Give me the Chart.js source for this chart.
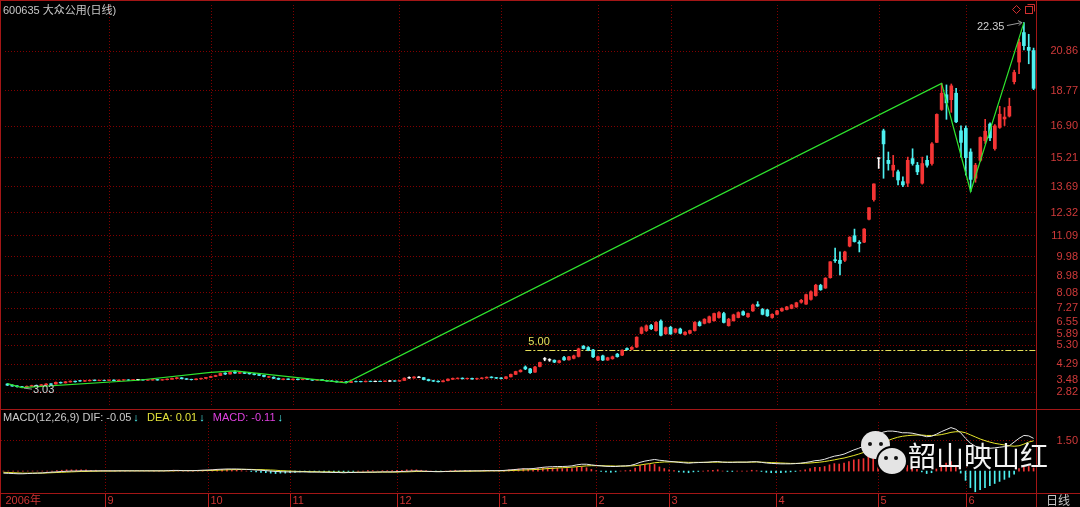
<!DOCTYPE html>
<html>
<head>
<meta charset="utf-8">
<script src="https://cdn.jsdelivr.net/npm/chart.js@4.4.0/dist/chart.umd.min.js"></script>
<style>
html, body { margin: 0; padding: 0; background: #000; }
#wrap { position: relative; width: 1080px; height: 507px; overflow: hidden; background: #000; }
canvas { position: absolute; left: 0; }
#main { top: 0; }
#macd { top: 410px; }
.bub { position: absolute; background: #e4e4e4; border-radius: 50%; }
.eye { position: absolute; width: 4px; height: 4px; border-radius: 50%; background: #111; }
#wmText { position: absolute; left: 908px; top: 441px; font: 28px "Noto Sans CJK SC", sans-serif; line-height: 1; color: #f4f4f4; white-space: nowrap; }
</style>
</head>
<body>
<div id="wrap">
  <canvas id="main" width="1080" height="410"></canvas>
  <canvas id="macd" width="1080" height="97"></canvas>
  <div class="bub" style="left:861px;top:431px;width:29px;height:28px;"></div>
  <div class="eye" style="left:868px;top:442px;"></div>
  <div class="eye" style="left:879px;top:442px;"></div>
  <div class="bub" style="left:876px;top:446px;width:28px;height:26px;border:2px solid #000;"></div>
  <div class="eye" style="left:884px;top:456px;"></div>
  <div class="eye" style="left:894px;top:456px;"></div>
  <div id="wmText">韶山映山红</div>
</div>
<script>
// 600635 大众公用 daily, 2006-08 .. 2007-06
var openP = [
  // aug
  3.22,3.16,3.12,3.08,3.05,3.10,3.15,3.12,3.18,3.23,3.22,3.31,3.28,3.33,3.37,3.40,3.37,3.39,3.43,3.40,3.42,
  // sep
  3.41,3.43,3.40,3.43,3.44,3.42,3.45,3.45,3.42,3.43,3.46,3.43,3.45,3.48,3.51,3.55,3.50,3.47,3.45,3.49,3.52,
  // oct
  3.57,3.62,3.67,3.80,3.75,3.85,3.79,3.83,3.80,3.76,3.72,3.68,3.58,3.58,3.52,3.46,3.49,
  // nov
  3.45,3.48,3.45,3.48,3.46,3.42,3.45,3.41,3.38,3.37,3.33,3.34,3.30,3.35,3.36,3.34,3.37,3.36,3.37,3.35,3.38,3.39,
  // dec
  3.37,3.41,3.55,3.54,3.58,3.56,3.46,3.40,3.37,3.34,3.40,3.47,3.51,3.53,3.50,3.52,3.49,3.51,3.54,3.59,3.56,
  // jan
  3.54,3.51,3.60,3.73,3.87,4.12,4.02,3.85,4.15,4.55,4.50,4.48,4.36,4.62,4.50,4.58,4.68,5.22,5.15,5.02,
  // feb
  4.49,4.71,4.49,4.56,4.80,4.75,5.10,5.06,5.18,5.90,6.05,6.32,6.05,6.55,5.88,
  // mar
  6.22,5.96,6.13,5.84,5.91,6.05,6.48,6.43,6.48,6.57,6.74,6.95,6.31,6.57,6.74,7.05,6.78,7.09,7.43,7.17,7.14,6.74,
  // apr
  6.91,7.09,7.16,7.22,7.30,7.55,7.45,7.70,7.90,8.44,8.30,8.85,9.80,9.77,9.77,10.52,11.07,10.72,10.73,11.94,12.98,
  // may
  15.18,16.62,15.06,14.54,14.45,13.93,13.85,15.15,14.80,13.85,15.06,14.89,16.01,17.75,18.53,18.27,18.61,16.62,
  // jun
  16.75,15.50,14.11,15.06,16.10,16.98,15.68,16.80,17.25,17.40,19.22,20.26,21.82,21.04,20.87
];
var highP = [
  3.25,3.18,3.14,3.10,3.12,3.16,3.17,3.20,3.24,3.25,3.33,3.33,3.36,3.39,3.38,3.42,3.41,3.44,3.44,3.43,3.43,
  3.44,3.44,3.44,3.46,3.45,3.46,3.47,3.46,3.45,3.47,3.47,3.46,3.49,3.53,3.56,3.56,3.51,3.48,3.50,3.53,3.58,
  3.64,3.69,3.80,3.82,3.86,3.92,3.86,3.85,3.82,3.78,3.73,3.70,3.63,3.60,3.54,3.50,3.50,
  3.49,3.49,3.49,3.50,3.47,3.46,3.46,3.42,3.40,3.38,3.36,3.35,3.36,3.37,3.37,3.38,3.38,3.38,3.38,3.39,3.40,3.40,
  3.42,3.55,3.60,3.61,3.62,3.57,3.48,3.42,3.39,3.40,3.50,3.54,3.55,3.55,3.54,3.53,3.53,3.56,3.60,3.61,3.57,
  3.56,3.62,3.75,3.90,3.98,4.18,4.05,4.15,4.38,4.62,4.56,4.50,4.48,4.68,4.68,4.75,5.12,5.26,5.20,5.06,
  4.70,4.75,4.64,4.70,4.84,5.03,5.14,5.20,5.72,6.25,6.35,6.38,6.52,6.62,6.24,
  6.28,6.16,6.18,5.99,6.08,6.52,6.55,6.68,6.82,6.98,7.05,7.02,6.70,6.92,7.04,7.10,6.98,7.45,7.58,7.22,7.18,6.94,
  7.12,7.25,7.33,7.43,7.55,7.70,7.98,8.15,8.50,8.50,8.85,9.70,10.42,10.21,10.25,11.02,11.42,10.81,11.45,12.56,13.81,
  15.19,16.71,15.50,15.32,14.54,14.19,15.23,15.67,14.95,15.23,15.30,16.00,17.52,19.13,19.05,19.10,18.87,16.88,
  16.88,15.67,14.90,16.30,17.23,17.05,16.95,17.92,17.85,18.35,19.83,21.47,22.35,21.73,21.00
];
var lowP = [
  3.14,3.10,3.06,3.03,3.04,3.08,3.10,3.11,3.16,3.18,3.21,3.26,3.27,3.32,3.32,3.36,3.36,3.38,3.39,3.39,3.39,
  3.40,3.39,3.39,3.41,3.41,3.41,3.43,3.42,3.41,3.42,3.42,3.42,3.44,3.47,3.50,3.49,3.46,3.43,3.44,3.48,3.51,
  3.56,3.61,3.66,3.72,3.74,3.78,3.77,3.77,3.74,3.70,3.66,3.60,3.56,3.50,3.45,3.44,3.45,
  3.44,3.44,3.44,3.45,3.41,3.41,3.40,3.37,3.35,3.32,3.31,3.28,3.29,3.33,3.33,3.33,3.34,3.34,3.34,3.34,3.36,3.36,
  3.36,3.40,3.52,3.53,3.55,3.44,3.38,3.35,3.32,3.33,3.39,3.46,3.49,3.48,3.48,3.47,3.47,3.50,3.53,3.54,3.51,
  3.49,3.50,3.59,3.72,3.85,3.98,3.78,3.83,4.12,4.45,4.42,4.35,4.33,4.47,4.48,4.55,4.65,5.08,4.98,4.62,
  4.45,4.46,4.47,4.53,4.64,4.72,5.02,5.03,5.15,5.88,6.00,6.10,6.02,5.76,5.85,
  5.85,5.92,5.88,5.80,5.88,6.02,6.28,6.40,6.45,6.55,6.70,6.45,6.28,6.55,6.72,6.85,6.75,7.06,7.33,6.88,6.80,6.70,
  6.88,7.06,7.14,7.20,7.28,7.50,7.43,7.66,7.87,8.18,8.28,8.82,9.65,8.99,9.70,10.48,10.73,10.21,10.70,11.90,12.90,
  14.63,14.11,14.54,14.19,13.76,13.67,13.67,14.80,14.30,13.80,14.70,14.80,16.00,17.70,17.23,17.60,17.05,15.23,
  14.28,13.41,13.90,15.00,15.95,16.10,15.60,16.75,16.90,17.35,19.10,19.65,20.90,20.17,18.80
];
var closeP = [
  3.16,3.11,3.08,3.05,3.10,3.14,3.12,3.18,3.22,3.20,3.31,3.28,3.34,3.37,3.34,3.38,3.40,3.42,3.40,3.42,3.41,
  3.43,3.40,3.43,3.44,3.42,3.45,3.45,3.43,3.44,3.46,3.43,3.45,3.48,3.52,3.55,3.50,3.47,3.45,3.49,3.52,3.57,
  3.62,3.67,3.78,3.75,3.84,3.80,3.83,3.78,3.76,3.72,3.68,3.62,3.61,3.52,3.47,3.49,3.46,
  3.48,3.45,3.47,3.46,3.42,3.45,3.41,3.38,3.36,3.33,3.35,3.30,3.35,3.34,3.34,3.37,3.35,3.36,3.35,3.38,3.38,3.37,
  3.41,3.53,3.55,3.59,3.58,3.46,3.40,3.37,3.34,3.39,3.48,3.52,3.53,3.50,3.52,3.49,3.51,3.54,3.58,3.56,3.53,
  3.51,3.60,3.73,3.88,3.95,4.02,3.82,4.12,4.36,4.55,4.50,4.38,4.45,4.50,4.66,4.71,5.08,5.10,5.02,4.66,
  4.66,4.49,4.61,4.66,4.67,5.01,5.04,5.16,5.70,6.20,6.30,6.15,6.48,5.80,6.20,
  5.87,6.13,5.91,5.96,6.05,6.48,6.31,6.65,6.78,6.95,7.00,6.48,6.65,6.88,7.00,6.88,6.95,7.40,7.35,6.91,6.83,6.91,
  7.09,7.22,7.30,7.40,7.52,7.65,7.95,8.10,8.45,8.21,8.82,9.69,9.75,9.60,10.21,10.99,10.76,10.66,11.42,12.55,13.81,
  15.18,15.93,14.89,14.80,14.02,13.76,15.06,14.89,14.45,14.89,14.80,15.93,17.49,18.61,18.10,19.00,17.10,16.01,
  15.20,14.05,14.80,16.27,16.60,16.25,16.88,17.50,17.35,17.92,19.71,21.30,21.13,20.88,18.87
];

// MACD(12,26,9)
var dif = [
  -0.10,-0.11,-0.12,-0.13,-0.13,-0.12,-0.11,-0.10,-0.09,-0.07,-0.05,-0.04,-0.02,-0.01,0.00,0.00,0.01,0.01,0.01,0.01,0.01,
  0.01,0.01,0.01,0.01,0.01,0.01,0.01,0.01,0.01,0.01,0.01,0.01,0.01,0.02,0.03,0.03,0.02,0.02,0.02,0.03,0.04,
  0.05,0.06,0.08,0.09,0.10,0.10,0.10,0.09,0.08,0.07,0.05,0.04,0.02,0.00,-0.02,-0.03,-0.04,
  -0.04,-0.04,-0.04,-0.04,-0.05,-0.05,-0.05,-0.06,-0.06,-0.07,-0.07,-0.08,-0.07,-0.07,-0.06,-0.06,-0.05,-0.05,-0.05,-0.04,-0.04,-0.04,
  -0.03,-0.02,-0.01,0.00,0.01,0.00,-0.01,-0.02,-0.03,-0.03,-0.02,-0.01,0.00,0.00,0.01,0.01,0.01,0.01,0.02,0.02,0.02,
  0.02,0.03,0.05,0.07,0.09,0.11,0.11,0.12,0.15,0.18,0.20,0.21,0.22,0.22,0.23,0.25,0.30,0.33,0.33,0.30,
  0.27,0.25,0.23,0.22,0.22,0.24,0.25,0.27,0.33,0.42,0.48,0.52,0.56,0.52,0.50,
  0.47,0.45,0.42,0.40,0.38,0.40,0.41,0.42,0.43,0.45,0.46,0.43,0.42,0.42,0.43,0.43,0.43,0.45,0.45,0.42,0.39,0.37,
  0.36,0.35,0.35,0.35,0.36,0.38,0.41,0.45,0.50,0.52,0.57,0.65,0.72,0.76,0.82,0.92,1.02,1.10,1.20,1.35,1.55,
  1.75,1.88,1.93,1.93,1.90,1.85,1.85,1.83,1.78,1.72,1.66,1.68,1.78,1.90,2.00,2.10,2.02,1.85,
  1.58,1.35,1.20,1.15,1.12,1.10,1.12,1.15,1.18,1.22,1.40,1.58,1.72,1.70,1.58
];
var dea = [
  -0.06,-0.07,-0.08,-0.09,-0.10,-0.10,-0.10,-0.10,-0.10,-0.09,-0.08,-0.07,-0.06,-0.05,-0.04,-0.03,-0.02,-0.02,-0.01,-0.01,0.00,
  0.00,0.00,0.00,0.01,0.01,0.01,0.01,0.01,0.01,0.01,0.01,0.01,0.01,0.01,0.01,0.02,0.02,0.02,0.02,0.02,0.02,
  0.03,0.03,0.04,0.05,0.06,0.07,0.07,0.08,0.08,0.08,0.07,0.07,0.06,0.05,0.04,0.02,0.01,
  0.00,-0.01,-0.02,-0.02,-0.03,-0.03,-0.04,-0.04,-0.04,-0.05,-0.05,-0.06,-0.06,-0.06,-0.06,-0.06,-0.06,-0.06,-0.05,-0.05,-0.05,-0.05,
  -0.05,-0.04,-0.04,-0.03,-0.02,-0.02,-0.02,-0.02,-0.02,-0.02,-0.02,-0.02,-0.02,-0.01,-0.01,-0.01,0.00,0.00,0.00,0.01,0.01,
  0.01,0.01,0.02,0.03,0.04,0.05,0.06,0.07,0.08,0.10,0.12,0.13,0.15,0.16,0.17,0.19,0.21,0.23,0.25,0.26,
  0.26,0.26,0.25,0.25,0.24,0.24,0.24,0.25,0.26,0.29,0.33,0.36,0.40,0.42,0.44,
  0.44,0.44,0.44,0.43,0.42,0.42,0.42,0.42,0.42,0.43,0.43,0.43,0.43,0.43,0.43,0.43,0.43,0.43,0.44,0.43,0.42,0.41,
  0.40,0.39,0.38,0.37,0.37,0.37,0.38,0.39,0.41,0.43,0.46,0.50,0.54,0.59,0.63,0.69,0.75,0.82,0.90,0.99,1.10,
  1.23,1.36,1.47,1.56,1.63,1.68,1.71,1.73,1.74,1.74,1.72,1.72,1.73,1.76,1.81,1.87,1.90,1.90,
  1.85,1.75,1.65,1.55,1.47,1.40,1.34,1.30,1.26,1.22,1.20,1.22,1.30,1.40,1.46
];
var macdBar = [
  0,0,0,0,0,0,0,0,0,0,0,0.02,0.04,0.06,0.06,0.06,0.06,0.06,0.04,0.04,0.02,
  0.02,0.02,0.02,0,0,0,0,0,0,0,0,0,0,0.02,0.04,0.02,0,0,0,0.02,0.04,
  0.04,0.06,0.08,0.08,0.08,0.06,0.06,0.02,0,-0.02,-0.04,-0.06,-0.08,-0.10,-0.12,-0.10,-0.10,
  -0.08,-0.06,-0.04,-0.04,-0.04,-0.04,-0.02,-0.04,-0.04,-0.04,-0.04,-0.04,-0.02,-0.02,0,0,0.02,0.02,0,0.02,0.02,0.02,
  0.04,0.04,0.06,0.06,0.06,0.04,0.02,0,-0.02,-0.02,0,0.02,0.04,0.02,0.04,0.04,0.02,0.02,0.04,0.02,0.02,
  0.02,0.04,0.06,0.08,0.10,0.12,0.10,0.10,0.14,0.16,0.16,0.16,0.14,0.12,0.12,0.12,0.18,0.20,0.16,0.08,
  0.02,-0.02,-0.04,-0.06,-0.04,0,0.02,0.04,0.14,0.26,0.30,0.32,0.32,0.20,0.12,
  0.06,0.02,-0.04,-0.06,-0.08,-0.04,-0.02,0,0.02,0.04,0.06,0,-0.02,-0.02,0,0,0,0.04,0.02,-0.02,-0.06,-0.08,
  -0.08,-0.08,-0.06,-0.04,-0.02,0.02,0.06,0.12,0.18,0.18,0.22,0.30,0.36,0.34,0.38,0.46,0.54,0.56,0.60,0.72,0.90,
  1.04,1.04,0.92,0.74,0.54,0.34,0.28,0.20,0.08,-0.04,-0.12,-0.08,0.10,0.28,0.38,0.46,0.24,-0.10,
  -0.45,-0.80,-1.00,-0.90,-0.80,-0.70,-0.60,-0.50,-0.40,-0.30,-0.15,0.12,0.20,0.22,0.15
];

// zigzag turning points (candle index, price)
var zzIdx = [0, 3, 27, 42, 47, 70, 193, 199, 210];
var zzVal = [3.24, 3.03, 3.42, 3.84, 3.92, 3.28, 19.13, 13.41, 22.35];

var priceTicks = [2.82, 3.48, 4.29, 5.30, 5.89, 6.55, 7.27, 8.08, 8.98, 9.98, 11.09, 12.32, 13.69, 15.21, 16.90, 18.77, 20.86];
var macdTicks = [1.50];
var monthStart = [0, 21, 42, 59, 81, 102, 122, 137, 159, 180, 198];
var monthText = ['2006年', '9', '10', '11', '12', '1', '2', '3', '4', '5', '6'];

var title = '600635 大众公用(日线)';
var legendVals = { dif: '-0.05', dea: '0.01', macd: '-0.11' };
var level = { value: 5.00, from: 107 };
var lowMark = { idx: 3, value: 3.03 };
var highMark = { idx: 210, value: 22.35 };

var UP = '#f43434', DOWN = '#4ef0f0', DOJI = '#ffffff';
var FRAME = '#a31616', GRID = '#820000', AXT = '#d03a3a';
var FONT = '11px "Liberation Sans", "Noto Sans CJK SC", sans-serif';

var labels = openP.map(function(v, i) { return i; });
var colors = openP.map(function(o, i) {
  return closeP[i] > o ? UP : (closeP[i] < o ? DOWN : DOJI);
});
var zz = labels.map(function() { return null; });
zzIdx.forEach(function(k, j) { zz[k] = zzVal[j]; });
var doji = openP.map(function(o, i) { return closeP[i] === o ? o : null; });

function seg(ctx, x1, y1, x2, y2) {
  ctx.beginPath(); ctx.moveTo(x1, y1); ctx.lineTo(x2, y2); ctx.stroke();
}
function px(v) { return Math.round(v) + 0.5; }

var mainDeco = {
  id: 'mainDeco',
  beforeDatasetsDraw: function(chart) {
    var ctx = chart.ctx, a = chart.chartArea, x = chart.scales.x, y = chart.scales.y;
    ctx.save();
    ctx.strokeStyle = GRID; ctx.lineWidth = 1; ctx.setLineDash([1, 2]);
    priceTicks.forEach(function(v) { var yy = px(y.getPixelForValue(v)); seg(ctx, a.left, yy, a.right, yy); });
    monthStart.slice(1).forEach(function(i) { var xx = px(x.getPixelForValue(i)); seg(ctx, xx, a.top, xx, a.bottom); });
    // 5.00 level
    var ly = px(y.getPixelForValue(level.value));
    ctx.strokeStyle = '#e6e05a'; ctx.setLineDash([6, 2, 2, 2]);
    seg(ctx, x.getPixelForValue(level.from), ly, a.right, ly);
    ctx.restore();
  },
  afterDraw: function(chart) {
    var ctx = chart.ctx, x = chart.scales.x, y = chart.scales.y;
    ctx.save();
    ctx.font = FONT; ctx.textBaseline = 'middle';
    // frame
    ctx.strokeStyle = FRAME; ctx.lineWidth = 1;
    seg(ctx, 0, 0.5, 1080, 0.5);
    seg(ctx, 0.5, 0, 0.5, 410);
    seg(ctx, 1036.5, 0, 1036.5, 410);
    seg(ctx, 0, 409.5, 1080, 409.5);
    // price labels
    ctx.fillStyle = AXT; ctx.textAlign = 'right';
    priceTicks.forEach(function(v) { ctx.fillText(v.toFixed(2), 1078, y.getPixelForValue(v) + 0.5); });
    // title
    ctx.textAlign = 'left'; ctx.fillStyle = '#c8c8c8';
    ctx.fillText(title, 3, 11);
    // level label
    ctx.fillStyle = '#e6e05a';
    ctx.fillText(level.value.toFixed(2), x.getPixelForValue(level.from) + 3, y.getPixelForValue(level.value) - 8);
    // high / low marks
    ctx.strokeStyle = '#9a9a9a'; ctx.fillStyle = '#cfcfcf';
    var hx = x.getPixelForValue(highMark.idx), hy = y.getPixelForValue(highMark.value);
    ctx.fillText(highMark.value.toFixed(2), hx - 47, hy + 4);
    seg(ctx, hx - 17, hy + 3, hx - 2, hy);
    seg(ctx, hx - 2, hy, hx - 6, hy - 2); seg(ctx, hx - 2, hy, hx - 5, hy + 3);
    var lx = x.getPixelForValue(lowMark.idx), lyy = y.getPixelForValue(lowMark.value);
    seg(ctx, lx + 2, lyy + 0.5, lx + 10, lyy + 1.5);
    ctx.fillText(lowMark.value.toFixed(2), lx + 11, lyy + 2);
    // corner icons
    ctx.strokeStyle = '#d03030';
    ctx.beginPath(); ctx.moveTo(1016.5, 5.5); ctx.lineTo(1020.5, 9.5); ctx.lineTo(1016.5, 13.5); ctx.lineTo(1012.5, 9.5); ctx.closePath(); ctx.stroke();
    ctx.strokeRect(1025.5, 6.5, 7, 7); seg(ctx, 1027.5, 4.5, 1034.5, 4.5); seg(ctx, 1034.5, 4.5, 1034.5, 11.5);
    ctx.restore();
  }
};

var macdDeco = {
  id: 'macdDeco',
  beforeDatasetsDraw: function(chart) {
    var ctx = chart.ctx, a = chart.chartArea, x = chart.scales.x, y = chart.scales.y;
    ctx.save();
    ctx.strokeStyle = GRID; ctx.lineWidth = 1; ctx.setLineDash([1, 2]);
    macdTicks.forEach(function(v) { var yy = px(y.getPixelForValue(v)); seg(ctx, a.left, yy, a.right, yy); });
    monthStart.slice(1).forEach(function(i) { var xx = px(x.getPixelForValue(i)); seg(ctx, xx, a.top + 12, xx, a.bottom); });
    ctx.restore();
  },
  afterDraw: function(chart) {
    var ctx = chart.ctx, a = chart.chartArea, x = chart.scales.x, y = chart.scales.y;
    ctx.save();
    ctx.font = FONT; ctx.textBaseline = 'middle';
    ctx.strokeStyle = FRAME; ctx.lineWidth = 1;
    seg(ctx, 0.5, 0, 0.5, 97);
    seg(ctx, 1036.5, 0, 1036.5, 97);
    seg(ctx, 0, 83.5, 1080, 83.5);
    ctx.fillStyle = AXT; ctx.textAlign = 'right';
    macdTicks.forEach(function(v) { ctx.fillText(v.toFixed(2), 1078, y.getPixelForValue(v) + 0.5); });
    // legend
    ctx.textAlign = 'left';
    var parts = [
      ['MACD(12,26,9) DIF: ' + legendVals.dif, '#cccccc'], ['\u2193', DOWN],
      ['  DEA: ' + legendVals.dea, '#e2e23a'], ['\u2193', DOWN],
      ['  MACD: ' + legendVals.macd, '#e040e0'], ['\u2193', DOWN]
    ];
    var cx = 3;
    parts.forEach(function(p) {
      ctx.fillStyle = p[1]; ctx.fillText(p[0], cx, 7.5); cx += ctx.measureText(p[0]).width + 2;
    });
    // date strip
    ctx.strokeStyle = '#b81c1c';
    monthStart.forEach(function(i, k) {
      var xx = px(x.getPixelForValue(i));
      if (k > 0) seg(ctx, xx, 84, xx, 97);
      ctx.fillStyle = '#cc3434';
      ctx.fillText(monthText[k], xx + 2, 90.5);
    });
    ctx.fillStyle = '#c4c4c4';
    ctx.font = '12px "Noto Sans CJK SC", sans-serif';
    ctx.fillText('日线', 1046, 90);
    ctx.restore();
  }
};

var common = {
  responsive: false, maintainAspectRatio: false, animation: false, events: [],
  devicePixelRatio: 1,
  plugins: { legend: { display: false }, tooltip: { enabled: false } }
};

new Chart(document.getElementById('main'), {
  type: 'bar',
  data: {
    labels: labels,
    datasets: [
      { type: 'line', data: zz, borderColor: '#2ee42e', borderWidth: 1.2, pointRadius: 0, spanGaps: true, order: 0 },
      { type: 'line', data: doji, showLine: false, pointStyle: 'line', pointRadius: 1.6, borderColor: DOJI, borderWidth: 1, order: 1 },
      { data: openP.map(function(o, i) { return [o, closeP[i]]; }), backgroundColor: colors, barThickness: 3, grouped: false, order: 2 },
      { data: lowP.map(function(l, i) { return [l, highP[i]]; }), backgroundColor: colors, barThickness: 1, grouped: false, order: 3 }
    ]
  },
  options: Object.assign({}, common, {
    layout: { padding: { left: 1, right: 44, top: 2, bottom: 1 } },
    scales: {
      x: { display: false, offset: true },
      y: { display: false, min: 2.11, max: 23.28 }
    }
  }),
  plugins: [mainDeco]
});

new Chart(document.getElementById('macd'), {
  type: 'bar',
  data: {
    labels: labels,
    datasets: [
      { type: 'line', data: dif, borderColor: '#e8e8e8', borderWidth: 1, pointRadius: 0, order: 0 },
      { type: 'line', data: dea, borderColor: '#e6e62a', borderWidth: 1, pointRadius: 0, order: 1 },
      { data: macdBar, backgroundColor: macdBar.map(function(v) { return v >= 0 ? UP : DOWN; }), barThickness: 1, order: 2 }
    ]
  },
  options: Object.assign({}, common, {
    layout: { padding: { left: 1, right: 44, top: 0, bottom: 14 } },
    scales: {
      x: { display: false, offset: true },
      y: { display: false, min: -1.06, max: 2.95 }
    }
  }),
  plugins: [macdDeco]
});
</script>
</body>
</html>
